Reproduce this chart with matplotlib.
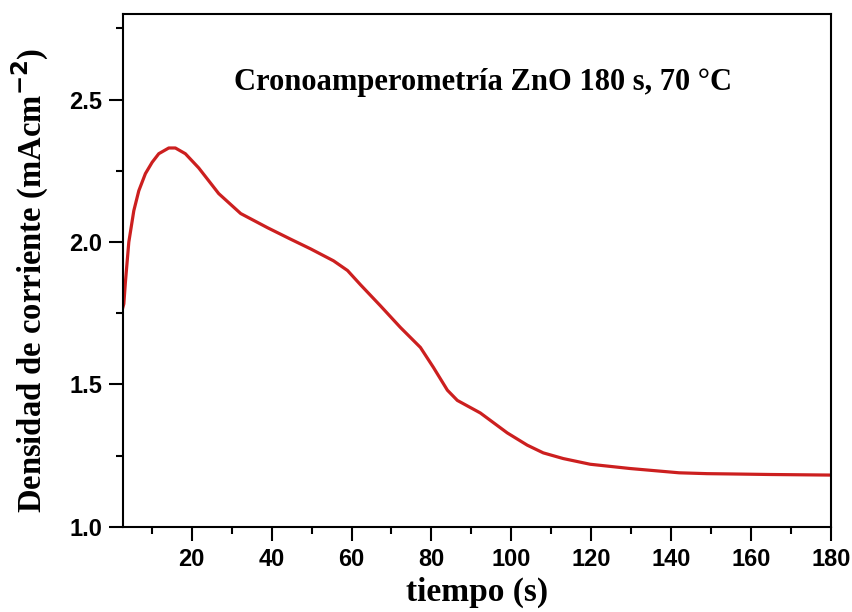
import matplotlib.pyplot as plt
from matplotlib.ticker import MultipleLocator

# valores
tiempo = [2.75, 3.0, 3.4, 4.25, 5.5, 6.75, 8.4, 10.1, 11.75, 14.25, 15.9,
          18.4, 21.75, 26.75, 32.25, 39.0, 44.75, 49.75, 55.5, 59.0, 62.25,
          67.25, 72.25, 77.25, 80.5, 84.0, 86.5, 92.25, 99.0, 104.0, 108.0,
          113.0, 119.75, 129.75, 142.0, 149.0, 154.75, 165.0, 180.0]
densidad = [1.77, 1.783, 1.86, 2.00, 2.11, 2.18, 2.24, 2.28, 2.31, 2.33, 2.33,
            2.31, 2.26, 2.17, 2.10, 2.05, 2.01, 1.976, 1.934, 1.90, 1.85,
            1.776, 1.70, 1.63, 1.56, 1.48, 1.444, 1.40, 1.33, 1.287, 1.26,
            1.24, 1.22, 1.205, 1.19, 1.187, 1.186, 1.184, 1.182]

x_ticks = [20, 40, 60, 80, 100, 120, 140, 160, 180]
y_ticks = [1.0, 1.5, 2.0, 2.5]

serif = ["Liberation Serif", "DejaVu Serif"]

fig = plt.figure(figsize=(8.53, 6.12), dpi=100)
ax = fig.add_axes([0.144, 0.139, 0.830, 0.838])

ax.plot(tiempo, densidad, color="#cc1f1f", linewidth=2.3,
        solid_joinstyle="round")

ax.set_xlim(2.75, 180)
ax.set_ylim(1.0, 2.8)
ax.set_xticks(x_ticks)
ax.set_yticks(y_ticks)
ax.xaxis.set_minor_locator(MultipleLocator(10))
ax.yaxis.set_minor_locator(MultipleLocator(0.25))
ax.tick_params(which="major", direction="out", length=10, width=1.5, pad=5)
ax.tick_params(which="minor", direction="out", length=5, width=1.5)
ax.tick_params(top=False, right=False)
for lab in ax.get_xticklabels() + ax.get_yticklabels():
    lab.set_family("Liberation Sans")
    lab.set_fontweight("bold")
    lab.set_fontsize(17)
for sp in ax.spines.values():
    sp.set_linewidth(1.5)

ax.set_xlabel("tiempo (s)", family=serif, fontweight="bold", fontsize=24,
              labelpad=4)
ax.set_ylabel("Densidad de corriente (mAcm$^{\\mathbf{-2}}$)", family=serif,
              fontweight="bold", fontsize=23.5)
ax.yaxis.set_label_coords(-0.102, 0.48)
ax.text(93, 2.56, "Cronoamperometría ZnO 180 s, 70 °C", family=serif,
        fontweight="bold", fontsize=22, ha="center", va="center")

fig.savefig("out.png", dpi=100)
